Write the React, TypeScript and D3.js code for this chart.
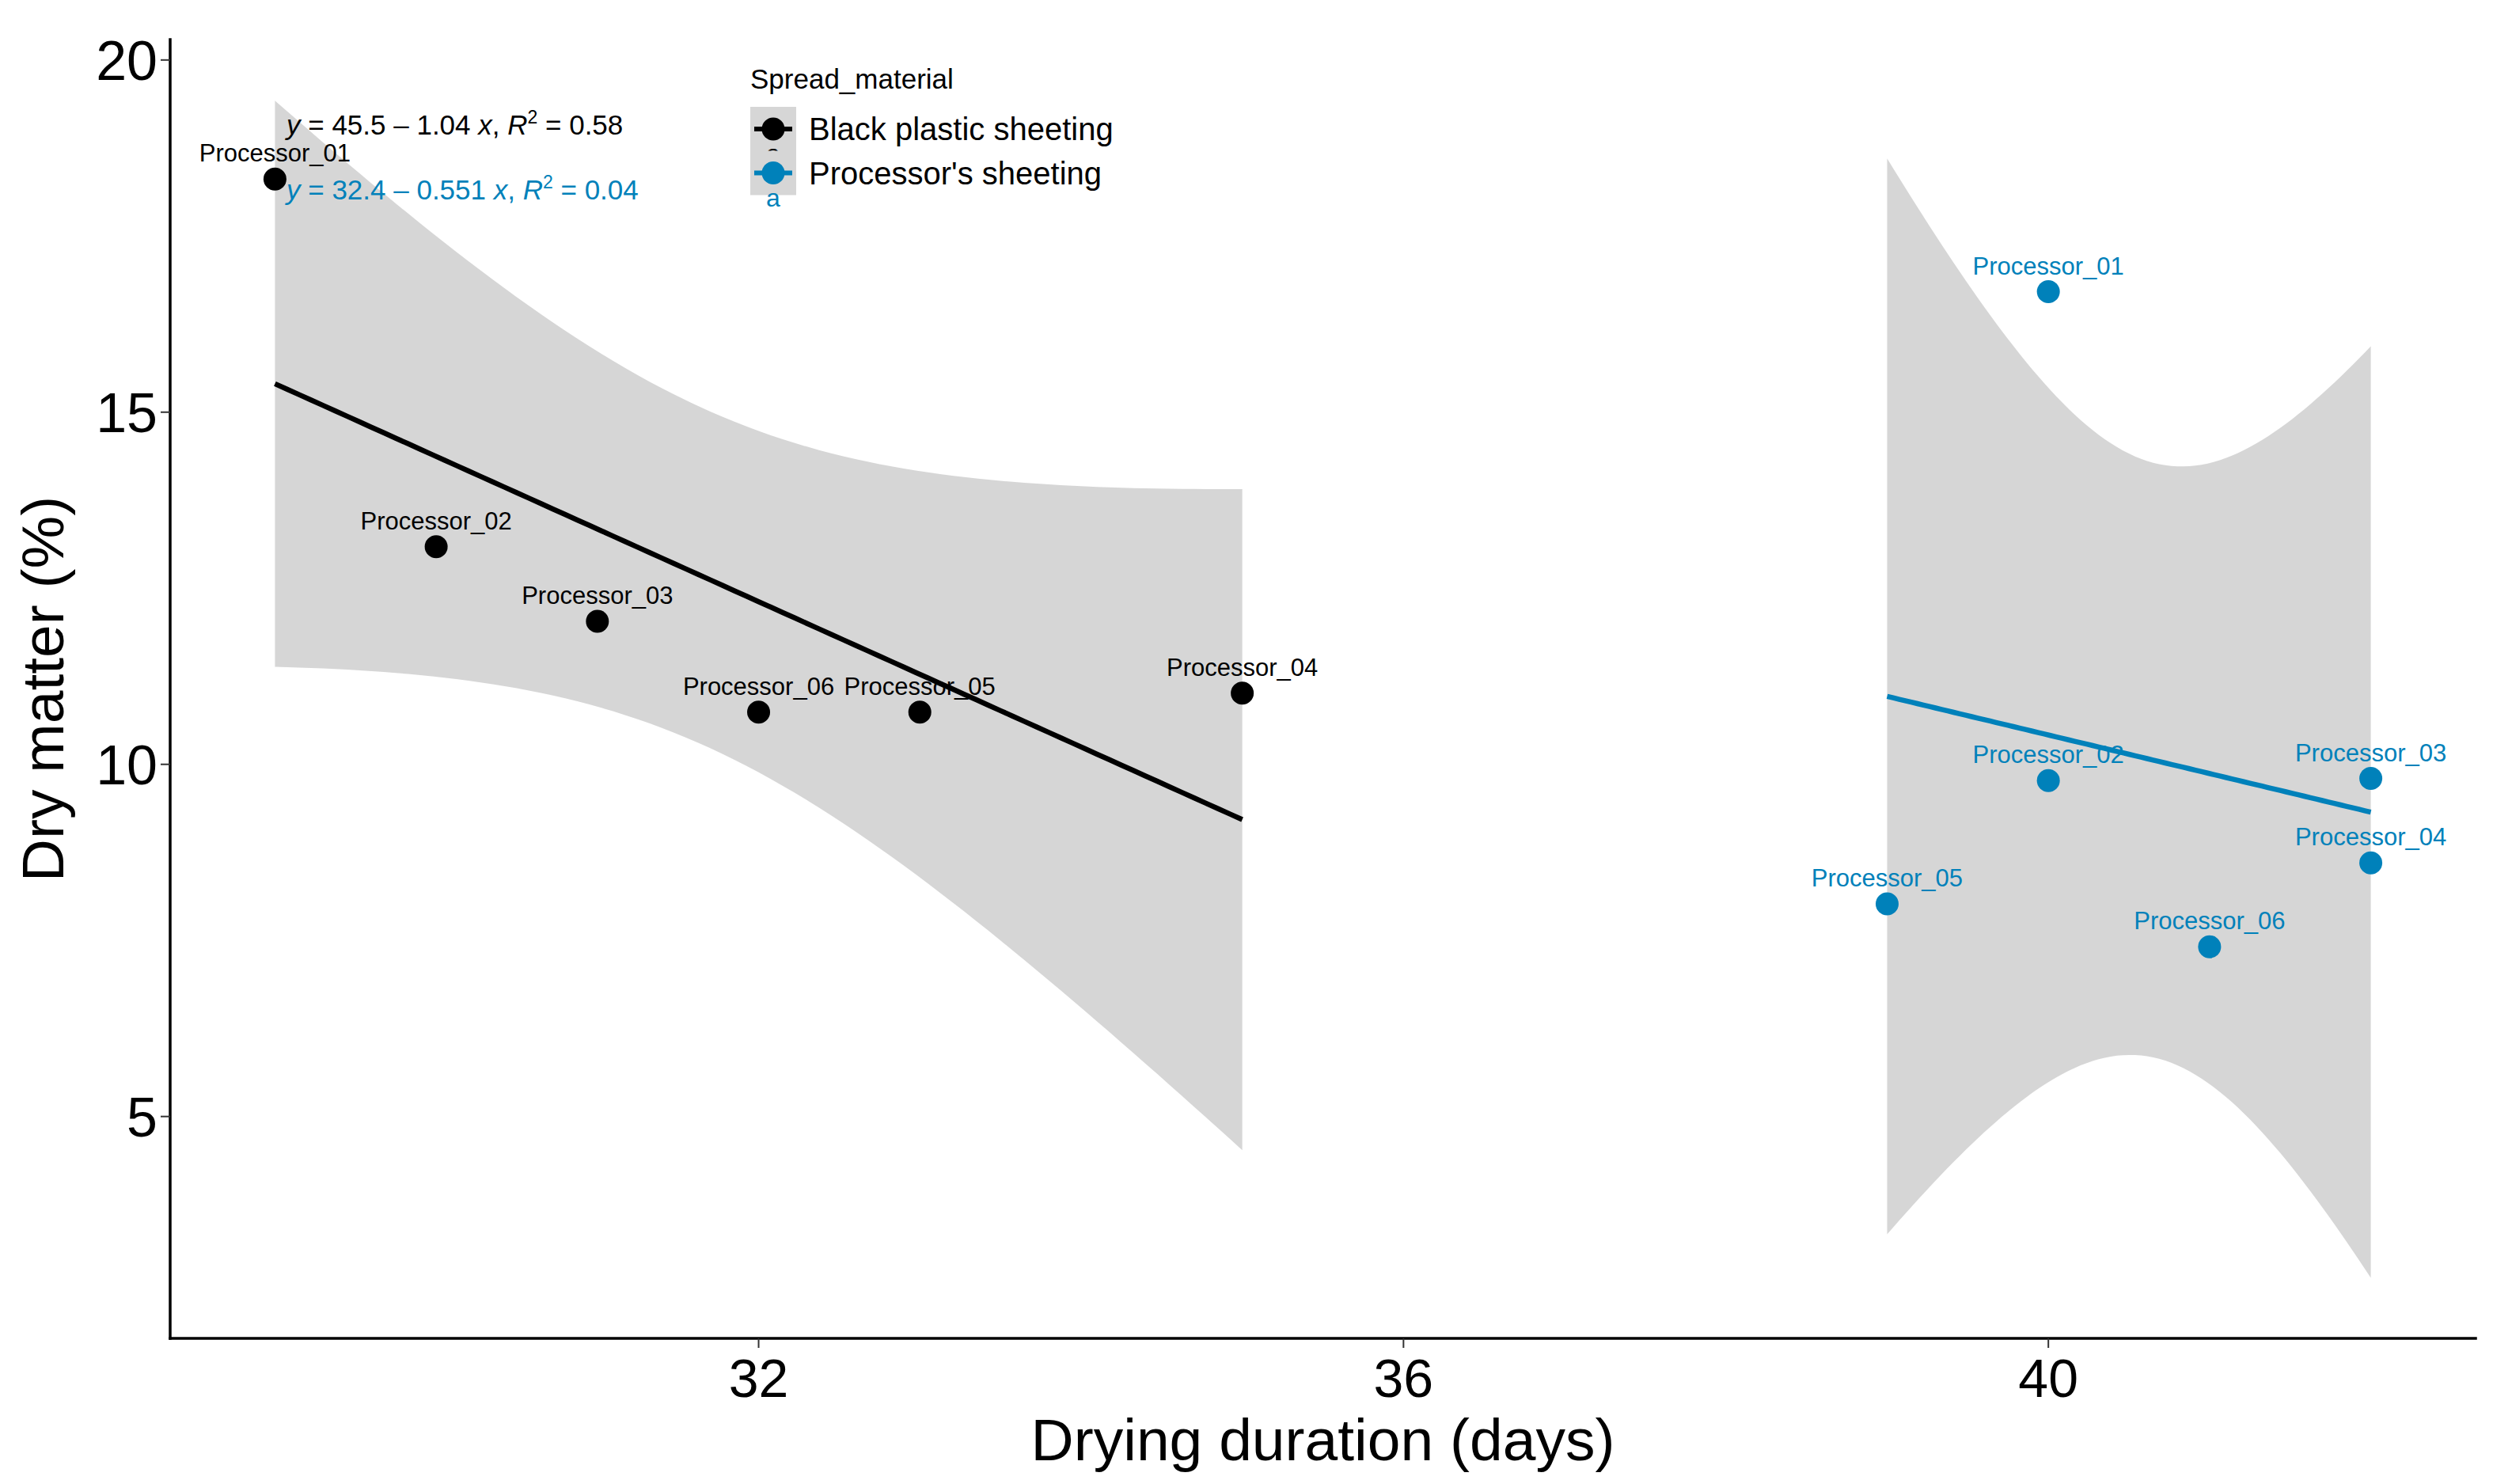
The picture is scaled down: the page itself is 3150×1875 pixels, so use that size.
import React from "react";
import * as d3 from "d3";

// Dry matter vs drying duration, by spread material
const labels = ["Processor_01", "Processor_02", "Processor_03", "Processor_04", "Processor_05", "Processor_06"];
const blackDays = [29, 30, 31, 35, 33, 32];
const blackDry = [18.31, 13.09, 12.03, 11.01, 10.74, 10.74];
const blueDays = [40, 40, 42, 42, 39, 41];
const blueDry = [16.71, 9.77, 9.8, 8.6, 8.02, 7.41];

const seriesNames = ["Black plastic sheeting", "Processor's sheeting"];
const seriesColors = ["#000000", "#0081BA"];
const eqIntercepts = ["45.5", "32.4"];
const eqSlopes = ["1.04", "0.551"];
const eqR2 = ["0.58", "0.04"];

const xTicks = [32, 36, 40];
const yTicks = [5, 10, 15, 20];

const W = 3150;
const H = 1875;
const left = 215;
const right = 3128;
const top = 50;
const bottom = 1691;
const FONT = "'Liberation Sans', Arial, sans-serif";

const x = d3.scaleLinear().domain([28.35, 42.65]).range([left, right]);
const y = d3.scaleLinear().domain([1.85, 20.29]).range([bottom, top]);

// lm fit with 95% confidence band, as stat_smooth(method = "lm")
const T975 = 2.776; // t quantile, df = 4
function fitLm(xs: number[], ys: number[]) {
  const n = xs.length;
  const mx = d3.mean(xs)!;
  const my = d3.mean(ys)!;
  const sxx = d3.sum(xs, (v) => (v - mx) ** 2);
  const sxy = d3.sum(xs, (v, i) => (v - mx) * (ys[i] - my));
  const b = sxy / sxx;
  const a = my - b * mx;
  const sse = d3.sum(xs, (v, i) => (ys[i] - (a + b * v)) ** 2);
  const s = Math.sqrt(sse / (n - 2));
  const [x0, x1] = d3.extent(xs) as [number, number];
  const band = d3.range(81).map((i) => {
    const xv = x0 + ((x1 - x0) * i) / 80;
    const yv = a + b * xv;
    const se = s * Math.sqrt(1 / n + (xv - mx) ** 2 / sxx);
    return { x: xv, y: yv, lo: yv - T975 * se, hi: yv + T975 * se };
  });
  return band;
}

const groups = [
  { xs: blackDays, ys: blackDry },
  { xs: blueDays, ys: blueDry },
];

const area = d3
  .area<{ x: number; lo: number; hi: number }>()
  .x((d) => x(d.x))
  .y0((d) => y(d.lo))
  .y1((d) => y(d.hi));
const line = d3
  .line<{ x: number; y: number }>()
  .x((d) => x(d.x))
  .y((d) => y(d.y));

const App = () => {
  const fits = groups.map((g) => fitLm(g.xs, g.ys));
  return (
    <svg
      width={W}
      height={H}
      style={{ position: "absolute", left: 0, top: 0, background: "#fff" }}
      fontFamily={FONT}
    >
      <rect width={W} height={H} fill="#fff" />
      {/* ribbons */}
      {fits.map((f, i) => (
        <path key={"r" + i} d={area(f)!} fill="#999999" fillOpacity={0.4} />
      ))}
      {/* fitted lines */}
      {fits.map((f, i) => (
        <path key={"l" + i} d={line(f)!} fill="none" stroke={seriesColors[i]} strokeWidth={6.5} />
      ))}
      {/* points and labels */}
      {groups.map((g, gi) =>
        g.xs.map((xv, i) => (
          <g key={`p${gi}-${i}`}>
            <circle cx={x(xv)} cy={y(g.ys[i])} r={14.5} fill={seriesColors[gi]} />
            <text
              x={x(xv)}
              y={y(g.ys[i]) - 22}
              textAnchor="middle"
              fontSize={31}
              fill={seriesColors[gi]}
            >
              {labels[i]}
            </text>
          </g>
        ))
      )}
      {/* equations */}
      {[0, 1].map((i) => (
        <text key={"eq" + i} x={362} y={170 + i * 82} fontSize={35} fill={seriesColors[i]}>
          <tspan fontStyle="italic">y</tspan>
          {` = ${eqIntercepts[i]} \u2013 ${eqSlopes[i]} `}
          <tspan fontStyle="italic">x</tspan>
          {", "}
          <tspan fontStyle="italic">R</tspan>
          <tspan fontSize={23} dy={-14}>2</tspan>
          <tspan dy={14}>{` = ${eqR2[i]}`}</tspan>
        </text>
      ))}
      {/* axes */}
      <line x1={left} x2={right} y1={bottom} y2={bottom} stroke="#000" strokeWidth={3.5} strokeLinecap="square" />
      <line x1={left} x2={left} y1={top} y2={bottom} stroke="#000" strokeWidth={3.5} strokeLinecap="square" />
      {xTicks.map((t) => (
        <g key={"xt" + t}>
          <line x1={x(t)} x2={x(t)} y1={bottom} y2={bottom + 12} stroke="#333" strokeWidth={2} />
          <text x={x(t)} y={1765} textAnchor="middle" fontSize={68} fill="#000">
            {t}
          </text>
        </g>
      ))}
      {yTicks.map((t) => (
        <g key={"yt" + t}>
          <line x1={left - 12} x2={left} y1={y(t)} y2={y(t)} stroke="#333" strokeWidth={2} />
          <text x={199} y={y(t)} dy="0.36em" textAnchor="end" fontSize={70} fill="#000">
            {t}
          </text>
        </g>
      ))}
      <text x={(left + right) / 2} y={1845} textAnchor="middle" fontSize={75} fill="#000">
        Drying duration (days)
      </text>
      <text
        transform={`translate(80, ${(top + bottom) / 2}) rotate(-90)`}
        textAnchor="middle"
        fontSize={75}
        fill="#000"
      >
        Dry matter (%)
      </text>
      {/* legend */}
      <text x={948} y={112} fontSize={35} fill="#000">
        Spread_material
      </text>
      {seriesNames.map((name, i) => {
        const cy = 163 + i * 55.5;
        return (
          <g key={"lg" + i}>
            <rect x={948} y={cy - 28} width={58} height={56} fill="#D6D6D6" />
            <line x1={953} x2={1001} y1={cy} y2={cy} stroke={seriesColors[i]} strokeWidth={6} />
            <circle cx={977} cy={cy} r={14.5} fill={seriesColors[i]} />
            <text x={977} y={cy + 42} textAnchor="middle" fontSize={32} fill={seriesColors[i]}>
              a
            </text>
            <text x={1022} y={cy} dy="0.36em" fontSize={40} fill="#000">
              {name}
            </text>
          </g>
        );
      })}
    </svg>
  );
};

export default App;
